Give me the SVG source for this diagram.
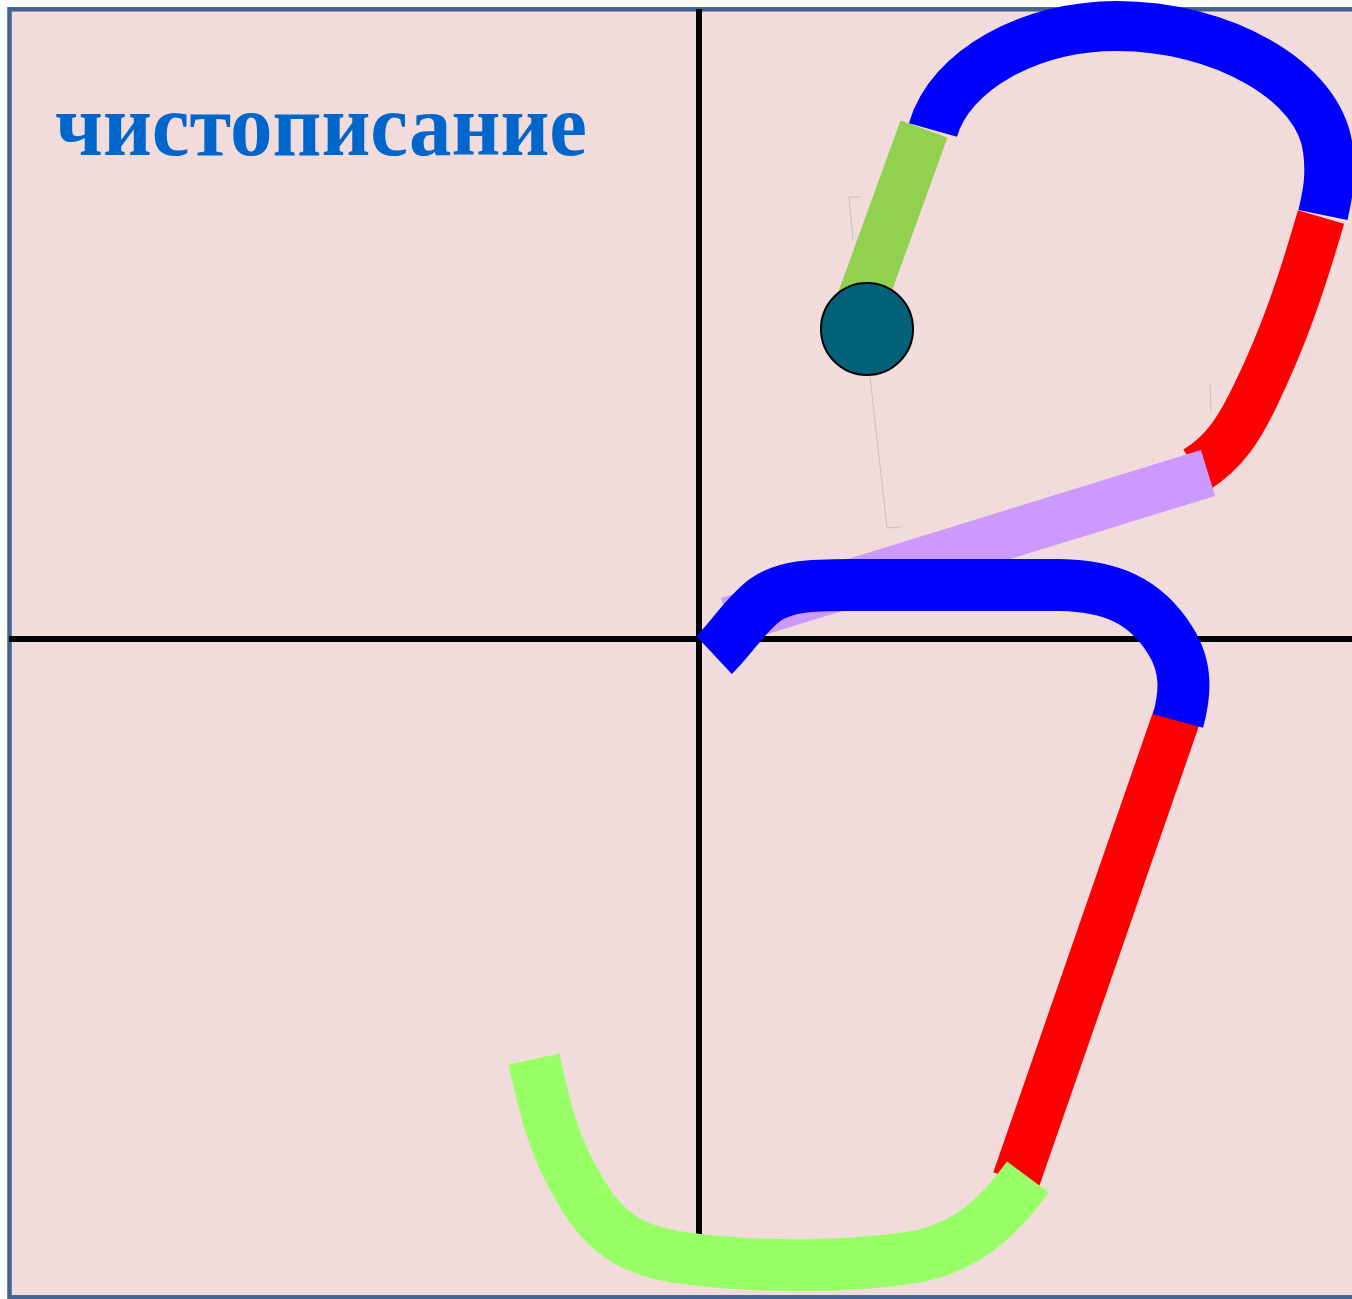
<svg xmlns="http://www.w3.org/2000/svg" width="1352" height="1299" viewBox="0 0 1352 1299">
  <style>
    .stroke { fill: none; stroke-linecap: butt; stroke-linejoin: round; }
    .grid { stroke: #000000; stroke-width: 6; }
    .faint { fill: none; stroke: #c9bdbd; stroke-width: 1; }
    .title { font-family: "Liberation Serif", "Times New Roman", serif; font-weight: bold; fill: #0066CC; }
  </style>
  <rect width="1352" height="1299" fill="#ffffff"/>
  <g id="frame">
    <rect x="9.5" y="9.3" width="1400" height="1288" fill="#F2DCDB" stroke="#41638D" stroke-width="4.5"/>
  </g>
  <g id="grid">
    <line class="grid" x1="699" y1="9" x2="699" y2="1240"/>
    <line class="grid" x1="9" y1="639" x2="1352" y2="639"/>
  </g>
  <g id="guides">
    <path class="faint" d="M861,197 L849,197 L853,240"/>
    <path class="faint" d="M870,377 L887,528 L901,527"/>
    <path class="faint" d="M1210,385 L1211,410"/>
  </g>
  <g id="title">
    <text class="title" x="55" y="155" font-size="89" textLength="532" lengthAdjust="spacingAndGlyphs">чистописание</text>
  </g>
  <g id="strokes">
    <path id="red-upper" class="stroke" stroke="#FF0000" stroke-width="48" d="M1321,217 C1300,290 1282,340 1257,392 C1240,428 1225,452 1196,470"/>
    <path id="lavender" class="stroke" stroke="#CC99FF" stroke-width="48" d="M1208,473 L728,621"/>
    <path id="red-lower" class="stroke" stroke="#FF0000" stroke-width="48" d="M1177,716 L1016,1180"/>
    <path id="blue-lower" class="stroke" stroke="#0000FF" stroke-width="52" d="M714,655 C730,640 745,615 765,600 C785,586 810,585 850,585 L1060,585 C1110,586 1145,600 1170,640 C1188,668 1185,695 1178,721"/>
    <path id="green-lower" class="stroke" stroke="#99FF66" stroke-width="52" d="M534,1059 C545,1110 555,1150 580,1190 C610,1245 650,1255 700,1260 C760,1267 850,1268 920,1256 C970,1245 1000,1215 1028,1177"/>
    <path id="green-upper" class="stroke" stroke="#92D050" stroke-width="50" d="M924,129 L862,300"/>
    <path id="blue-upper" class="stroke" stroke="#0000FF" stroke-width="50" d="M933,130 C950,70 1030,26 1117,26 C1220,26 1320,80 1328,150 C1332,180 1326,200 1323,215"/>
  </g>
  <g id="start-dot">
    <circle cx="867" cy="329" r="46" fill="#03627A" stroke="#000000" stroke-width="2"/>
  </g>
</svg>
